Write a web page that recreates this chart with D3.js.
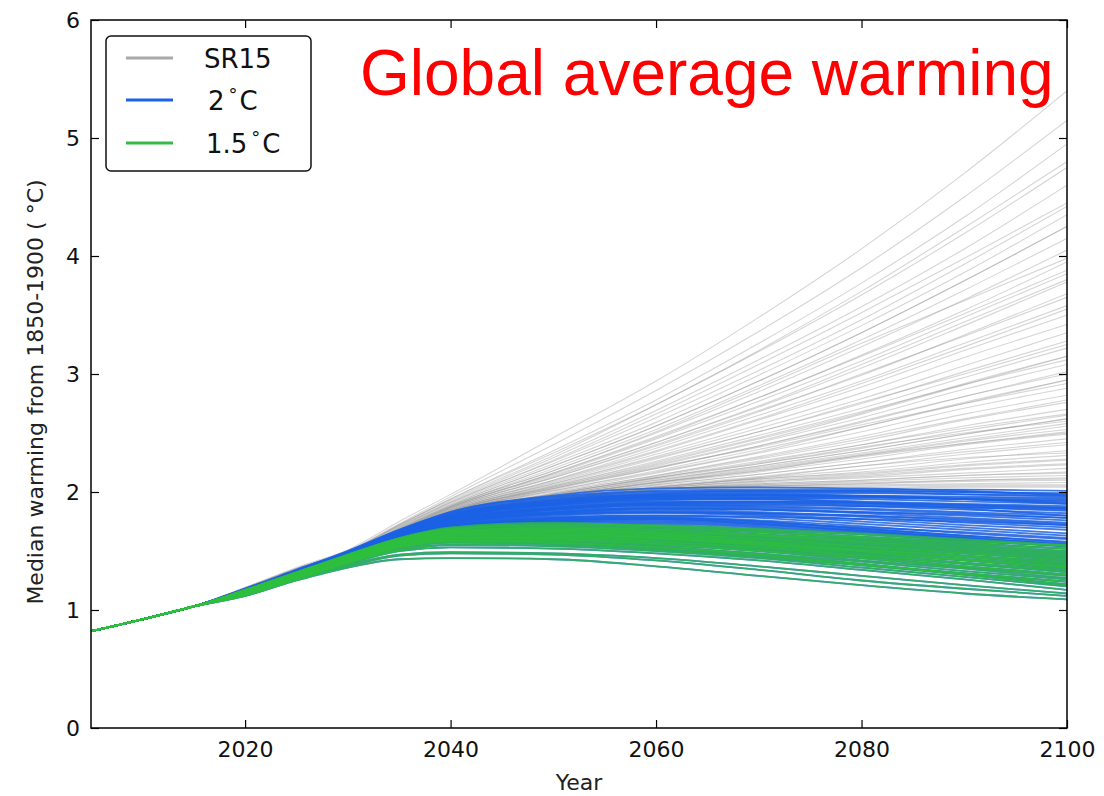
<!DOCTYPE html>
<html>
<head>
<meta charset="utf-8">
<script src="https://cdn.jsdelivr.net/npm/d3@7"></script>
<style>
  html, body { margin: 0; padding: 0; background: #fff; }
  svg { display: block; }
</style>
</head>
<body>
<svg id="chart" width="1104" height="796"></svg>
<script>
// Shared observed warming (°C above 1850-1900)
const histYears = [2005, 2010, 2015];
const histValues = [0.82, 0.92, 1.03];

// Years for every scenario pathway
const projYears = [2020, 2025, 2030, 2035, 2040, 2050, 2060, 2070, 2080, 2090, 2100];

// SR15 pathways that exceed 2 °C
const sr15Series = [
  [1.19,1.36,1.51,1.75,1.98,2.46,2.94,3.48,4.06,4.70,5.40],
  [1.19,1.35,1.50,1.73,1.96,2.40,2.86,3.36,3.90,4.50,5.15],
  [1.18,1.35,1.49,1.72,1.94,2.35,2.78,3.26,3.77,4.33,4.95],
  [1.19,1.35,1.50,1.72,1.94,2.33,2.74,3.19,3.67,4.19,4.75],
  [1.18,1.35,1.49,1.71,1.92,2.29,2.69,3.12,3.57,4.06,4.60],
  [1.18,1.34,1.48,1.70,1.91,2.26,2.63,3.03,3.46,3.93,4.42],
  [1.18,1.34,1.48,1.70,1.90,2.24,2.59,2.99,3.41,3.86,4.35],
  [1.18,1.34,1.48,1.69,1.89,2.22,2.56,2.94,3.35,3.79,4.25],
  [1.18,1.34,1.48,1.69,1.89,2.22,2.56,2.94,3.35,3.79,4.25],
  [1.18,1.34,1.47,1.69,1.88,2.20,2.53,2.90,3.29,3.71,4.15],
  [1.18,1.34,1.47,1.68,1.88,2.18,2.50,2.85,3.23,3.63,4.05],
  [1.17,1.34,1.47,1.68,1.87,2.16,2.47,2.80,3.16,3.54,3.95],
  [1.17,1.34,1.47,1.67,1.87,2.15,2.45,2.77,3.11,3.48,3.85],
  [1.17,1.34,1.47,1.67,1.86,2.13,2.42,2.72,3.05,3.41,3.78],
  [1.17,1.33,1.46,1.66,1.86,2.12,2.40,2.69,2.99,3.33,3.68],
  [1.17,1.33,1.46,1.66,1.85,2.10,2.37,2.65,2.94,3.26,3.58],
  [1.17,1.33,1.46,1.66,1.85,2.09,2.34,2.61,2.89,3.20,3.50],
  [1.17,1.33,1.46,1.65,1.84,2.08,2.32,2.57,2.84,3.14,3.42],
  [1.17,1.33,1.46,1.65,1.84,2.07,2.30,2.54,2.79,3.07,3.35],
  [1.17,1.33,1.45,1.65,1.84,2.06,2.28,2.51,2.75,3.02,3.28],
  [1.17,1.33,1.45,1.64,1.83,2.05,2.26,2.48,2.71,2.97,3.22],
  [1.17,1.33,1.45,1.64,1.83,2.04,2.24,2.45,2.67,2.92,3.15],
  [1.17,1.33,1.45,1.64,1.83,2.03,2.22,2.42,2.63,2.87,3.08],
  [1.17,1.33,1.45,1.64,1.82,2.02,2.20,2.39,2.59,2.81,3.02],
  [1.17,1.33,1.45,1.63,1.82,2.01,2.18,2.36,2.55,2.76,2.95],
  [1.17,1.33,1.45,1.63,1.82,2.00,2.16,2.33,2.51,2.71,2.88],
  [1.17,1.33,1.45,1.63,1.81,1.99,2.14,2.30,2.47,2.66,2.82],
  [1.17,1.32,1.45,1.63,1.81,1.98,2.13,2.28,2.43,2.61,2.76],
  [1.17,1.32,1.45,1.63,1.81,1.98,2.12,2.26,2.40,2.56,2.70],
  [1.17,1.32,1.44,1.62,1.81,1.97,2.11,2.24,2.37,2.52,2.65],
  [1.17,1.32,1.44,1.62,1.80,1.97,2.10,2.22,2.35,2.49,2.62],
  [1.17,1.32,1.44,1.62,1.80,1.97,2.10,2.22,2.35,2.49,2.62],
  [1.16,1.32,1.44,1.62,1.80,1.96,2.09,2.21,2.33,2.46,2.58],
  [1.16,1.32,1.44,1.62,1.79,1.96,2.08,2.19,2.31,2.43,2.53],
  [1.16,1.32,1.44,1.62,1.81,1.95,2.07,2.17,2.28,2.40,2.49],
  [1.16,1.32,1.44,1.61,1.79,1.95,2.06,2.15,2.25,2.36,2.45],
  [1.16,1.32,1.44,1.61,1.80,1.94,2.05,2.13,2.22,2.32,2.40],
  [1.16,1.32,1.44,1.61,1.78,1.94,2.04,2.12,2.19,2.28,2.35],
  [1.16,1.32,1.44,1.61,1.80,1.94,2.04,2.11,2.17,2.25,2.31],
  [1.16,1.32,1.44,1.61,1.79,1.93,2.03,2.10,2.15,2.22,2.27],
  [1.16,1.32,1.44,1.61,1.81,1.93,2.03,2.09,2.13,2.19,2.23],
  [1.16,1.32,1.44,1.61,1.78,1.93,2.02,2.08,2.12,2.16,2.20],
  [1.16,1.32,1.44,1.61,1.80,1.93,2.02,2.07,2.10,2.14,2.17],
  [1.16,1.32,1.44,1.61,1.79,1.93,2.02,2.06,2.09,2.12,2.14],
  [1.16,1.32,1.44,1.61,1.81,1.93,2.02,2.06,2.08,2.10,2.12],
  [1.16,1.32,1.44,1.61,1.78,1.93,2.02,2.05,2.07,2.09,2.10],
  [1.16,1.32,1.44,1.61,1.80,1.93,2.02,2.05,2.06,2.07,2.08],
  [1.16,1.32,1.44,1.61,1.79,1.93,2.02,2.04,2.05,2.06,2.06],
  [1.16,1.32,1.44,1.61,1.81,1.93,2.01,2.04,2.04,2.05,2.05],
  [1.16,1.32,1.44,1.61,1.78,1.93,2.01,2.03,2.03,2.04,2.04],
  [1.17,1.32,1.45,1.63,1.81,1.98,2.12,2.25,2.40,2.54,2.66],
  [1.16,1.32,1.44,1.62,1.80,1.96,2.08,2.18,2.31,2.41,2.50],
  [1.17,1.33,1.45,1.63,1.82,2.01,2.17,2.34,2.55,2.75,2.95],
  [1.17,1.33,1.46,1.65,1.85,2.10,2.35,2.62,2.92,3.23,3.55],
  [1.17,1.34,1.46,1.66,1.86,2.12,2.39,2.68,3.00,3.32,3.65],
  [1.17,1.33,1.46,1.65,1.84,2.07,2.29,2.51,2.76,3.00,3.25],
  [1.17,1.33,1.45,1.64,1.83,2.03,2.20,2.39,2.60,2.81,3.00],
  [1.18,1.34,1.47,1.68,1.88,2.18,2.51,2.88,3.26,3.62,3.98],
  [1.17,1.34,1.47,1.68,1.87,2.16,2.46,2.80,3.15,3.51,3.88],
  [1.18,1.35,1.49,1.71,1.91,2.27,2.66,3.08,3.52,3.98,4.45],
  [1.16,1.32,1.44,1.62,1.80,1.96,2.08,2.18,2.30,2.41,2.51],
  [1.16,1.32,1.44,1.61,1.79,1.95,2.06,2.15,2.25,2.34,2.42],
  [1.16,1.32,1.44,1.61,1.81,1.94,2.04,2.11,2.16,2.23,2.28],
  [1.16,1.32,1.44,1.61,1.80,1.93,2.03,2.09,2.14,2.20,2.24],
  [1.16,1.32,1.44,1.61,1.79,1.93,2.02,2.07,2.10,2.14,2.16],
  [1.16,1.32,1.44,1.61,1.80,1.93,2.02,2.05,2.07,2.10,2.11],
  [1.17,1.32,1.45,1.63,1.81,1.99,2.14,2.29,2.45,2.62,2.78],
  [1.17,1.33,1.45,1.64,1.83,2.04,2.23,2.43,2.66,2.91,3.15],
  [1.17,1.33,1.45,1.64,1.83,2.05,2.25,2.46,2.68,2.91,3.12],
  [1.17,1.32,1.45,1.63,1.81,1.98,2.12,2.24,2.38,2.50,2.60],
  [1.17,1.34,1.47,1.67,1.87,2.14,2.42,2.73,3.08,3.44,3.80],
  [1.18,1.35,1.49,1.72,1.93,2.31,2.74,3.20,3.70,4.24,4.80],
  [1.16,1.32,1.44,1.62,1.80,1.96,2.08,2.20,2.32,2.44,2.56],
  [1.16,1.32,1.44,1.61,1.80,1.94,2.04,2.12,2.22,2.29,2.33],
  [1.17,1.33,1.45,1.64,1.82,2.03,2.21,2.38,2.57,2.75,2.92]
];

// Pathways that keep warming below 2 °C
const twoDegSeries = [
  [1.18,1.34,1.50,1.68,1.83,1.96,2.01,2.02,2.02,2.02,2.01],
  [1.18,1.33,1.49,1.67,1.82,1.95,2.00,2.01,2.01,2.00,1.99],
  [1.17,1.33,1.49,1.67,1.81,1.93,1.98,1.99,1.99,1.98,1.97],
  [1.17,1.33,1.49,1.66,1.80,1.92,1.97,1.98,1.97,1.96,1.95],
  [1.17,1.33,1.48,1.66,1.80,1.91,1.96,1.97,1.96,1.94,1.93],
  [1.17,1.32,1.48,1.65,1.79,1.90,1.95,1.95,1.94,1.92,1.90],
  [1.17,1.32,1.48,1.65,1.78,1.89,1.93,1.94,1.92,1.90,1.88],
  [1.17,1.32,1.47,1.64,1.78,1.88,1.92,1.92,1.91,1.89,1.86],
  [1.16,1.32,1.47,1.64,1.77,1.87,1.91,1.91,1.89,1.87,1.84],
  [1.16,1.31,1.47,1.63,1.77,1.86,1.90,1.90,1.88,1.85,1.82],
  [1.16,1.31,1.46,1.63,1.76,1.85,1.89,1.88,1.86,1.83,1.80],
  [1.16,1.31,1.46,1.63,1.76,1.85,1.88,1.87,1.85,1.82,1.78],
  [1.16,1.31,1.46,1.62,1.75,1.84,1.87,1.86,1.83,1.80,1.76],
  [1.16,1.31,1.46,1.62,1.75,1.83,1.86,1.85,1.82,1.78,1.74],
  [1.16,1.31,1.45,1.62,1.74,1.82,1.85,1.83,1.80,1.76,1.72],
  [1.16,1.30,1.45,1.61,1.74,1.82,1.84,1.82,1.79,1.74,1.70],
  [1.15,1.30,1.45,1.61,1.73,1.81,1.83,1.81,1.77,1.72,1.68],
  [1.15,1.30,1.45,1.61,1.73,1.80,1.82,1.80,1.75,1.70,1.65],
  [1.15,1.30,1.44,1.60,1.72,1.79,1.80,1.78,1.73,1.68,1.63],
  [1.15,1.30,1.44,1.60,1.72,1.78,1.79,1.76,1.71,1.65,1.60],
  [1.15,1.30,1.44,1.60,1.71,1.77,1.78,1.75,1.69,1.63,1.57],
  [1.15,1.29,1.44,1.59,1.71,1.76,1.77,1.73,1.67,1.61,1.54],
  [1.17,1.33,1.49,1.67,1.81,1.94,1.99,2.01,2.01,2.00,1.98],
  [1.17,1.33,1.48,1.66,1.80,1.93,1.98,2.00,2.00,1.98,1.96],
  [1.17,1.32,1.48,1.65,1.79,1.91,1.96,1.97,1.96,1.94,1.91],
  [1.17,1.32,1.47,1.65,1.78,1.90,1.95,1.96,1.96,1.95,1.94],
  [1.16,1.32,1.47,1.64,1.78,1.89,1.94,1.95,1.95,1.94,1.92],
  [1.16,1.31,1.47,1.64,1.77,1.87,1.91,1.92,1.91,1.89,1.87],
  [1.16,1.31,1.46,1.63,1.76,1.86,1.90,1.91,1.90,1.88,1.86],
  [1.16,1.31,1.46,1.63,1.76,1.85,1.89,1.89,1.88,1.87,1.85],
  [1.18,1.34,1.50,1.68,1.83,1.97,2.03,2.04,2.03,2.01,1.97],
  [1.17,1.33,1.49,1.66,1.80,1.92,1.97,1.98,1.97,1.94,1.90],
  [1.16,1.31,1.46,1.62,1.75,1.83,1.86,1.85,1.83,1.81,1.78],
  [1.16,1.30,1.45,1.61,1.73,1.81,1.83,1.82,1.80,1.77,1.73],
  [1.17,1.32,1.48,1.65,1.79,1.90,1.94,1.94,1.91,1.86,1.80],
  [1.14,1.28,1.42,1.59,1.71,1.78,1.80,1.79,1.77,1.75,1.72],
  [1.14,1.28,1.42,1.58,1.70,1.76,1.77,1.74,1.70,1.66,1.61],
  [1.15,1.29,1.43,1.59,1.70,1.75,1.75,1.72,1.67,1.61,1.56],
  [1.15,1.29,1.44,1.60,1.71,1.77,1.78,1.75,1.69,1.63,1.58],
  [1.14,1.28,1.43,1.58,1.70,1.75,1.76,1.73,1.68,1.62,1.55],
  [1.15,1.30,1.43,1.58,1.69,1.73,1.73,1.70,1.65,1.59,1.54],
  [1.15,1.30,1.44,1.59,1.70,1.74,1.74,1.71,1.66,1.60,1.55]
];

// Pathways that limit warming to 1.5 °C (also below 2 °C)
const onePointFiveSeries = [
  [1.17,1.32,1.47,1.61,1.70,1.74,1.71,1.67,1.62,1.58,1.55],
  [1.17,1.32,1.46,1.60,1.69,1.72,1.70,1.66,1.61,1.56,1.52],
  [1.16,1.31,1.46,1.60,1.68,1.71,1.68,1.64,1.60,1.55,1.50],
  [1.16,1.31,1.45,1.59,1.67,1.70,1.67,1.63,1.58,1.53,1.48],
  [1.16,1.31,1.45,1.59,1.67,1.69,1.66,1.62,1.57,1.51,1.46],
  [1.16,1.30,1.45,1.58,1.66,1.68,1.65,1.60,1.55,1.49,1.44],
  [1.16,1.30,1.44,1.58,1.65,1.67,1.64,1.59,1.54,1.48,1.42],
  [1.15,1.30,1.44,1.57,1.65,1.66,1.63,1.58,1.53,1.46,1.40],
  [1.15,1.30,1.44,1.57,1.64,1.65,1.62,1.57,1.51,1.45,1.38],
  [1.15,1.29,1.43,1.56,1.63,1.64,1.61,1.56,1.50,1.43,1.37],
  [1.15,1.29,1.43,1.56,1.63,1.63,1.60,1.55,1.49,1.42,1.35],
  [1.15,1.29,1.43,1.56,1.62,1.62,1.59,1.54,1.47,1.40,1.33],
  [1.15,1.29,1.42,1.55,1.61,1.61,1.58,1.53,1.46,1.39,1.32],
  [1.14,1.28,1.42,1.55,1.61,1.60,1.57,1.52,1.45,1.37,1.30],
  [1.14,1.28,1.42,1.54,1.60,1.60,1.56,1.51,1.44,1.36,1.29],
  [1.14,1.28,1.41,1.54,1.59,1.59,1.55,1.50,1.42,1.35,1.27],
  [1.14,1.28,1.41,1.53,1.59,1.58,1.54,1.48,1.41,1.33,1.26],
  [1.14,1.27,1.41,1.53,1.58,1.57,1.53,1.47,1.39,1.31,1.24],
  [1.13,1.27,1.40,1.52,1.57,1.56,1.52,1.46,1.38,1.30,1.22],
  [1.13,1.27,1.40,1.51,1.55,1.54,1.50,1.44,1.36,1.28,1.20],
  [1.13,1.26,1.39,1.50,1.53,1.52,1.48,1.42,1.34,1.26,1.17],
  [1.12,1.26,1.38,1.47,1.49,1.48,1.44,1.37,1.29,1.21,1.14],
  [1.12,1.25,1.36,1.43,1.44,1.43,1.37,1.29,1.21,1.14,1.09],
  [1.17,1.32,1.47,1.61,1.69,1.73,1.72,1.69,1.65,1.60,1.55],
  [1.17,1.31,1.46,1.60,1.68,1.72,1.71,1.68,1.64,1.59,1.54],
  [1.16,1.31,1.46,1.59,1.67,1.70,1.69,1.66,1.62,1.57,1.52],
  [1.16,1.31,1.45,1.59,1.66,1.69,1.68,1.64,1.59,1.54,1.49],
  [1.16,1.30,1.45,1.58,1.66,1.68,1.66,1.63,1.58,1.52,1.47],
  [1.16,1.30,1.44,1.58,1.65,1.67,1.65,1.61,1.56,1.50,1.45],
  [1.15,1.30,1.44,1.57,1.64,1.66,1.64,1.60,1.54,1.48,1.43],
  [1.15,1.29,1.43,1.57,1.63,1.65,1.63,1.58,1.52,1.46,1.41],
  [1.15,1.29,1.43,1.56,1.63,1.64,1.62,1.57,1.51,1.45,1.39],
  [1.15,1.29,1.43,1.56,1.62,1.63,1.61,1.56,1.50,1.43,1.37],
  [1.15,1.29,1.42,1.55,1.61,1.62,1.60,1.55,1.48,1.42,1.36],
  [1.14,1.28,1.42,1.55,1.60,1.61,1.58,1.53,1.46,1.40,1.34],
  [1.14,1.28,1.41,1.53,1.58,1.57,1.53,1.47,1.39,1.30,1.21],
  [1.13,1.26,1.37,1.46,1.48,1.47,1.42,1.34,1.25,1.18,1.12],
  [1.14,1.28,1.41,1.54,1.59,1.59,1.56,1.50,1.44,1.37,1.30],
  [1.13,1.27,1.40,1.51,1.55,1.55,1.51,1.45,1.38,1.31,1.24]
];

const xTicks = [2020, 2040, 2060, 2080, 2100];
const yTicks = [0, 1, 2, 3, 4, 5, 6];
const legendLabels = ["SR15", "2", "1.5"];

const svg = d3.select("#chart");
const margin = { left: 91, right: 1067, top: 20, bottom: 728 };

const x = d3.scaleLinear().domain([2005, 2100]).range([margin.left, margin.right]);
const y = d3.scaleLinear().domain([0, 6]).range([margin.bottom, margin.top]);

const allYears = histYears.concat(projYears);
const toPoints = vals => {
  const v = histValues.concat(vals);
  return allYears.map((yr, i) => [yr, v[i]]);
};

const line = d3.line()
  .x(d => x(d[0]))
  .y(d => y(d[1]))
  .curve(d3.curveMonotoneX);

svg.append("defs").append("clipPath").attr("id", "plot-clip")
  .append("rect")
  .attr("x", margin.left).attr("y", margin.top)
  .attr("width", margin.right - margin.left)
  .attr("height", margin.bottom - margin.top);

const plot = svg.append("g").attr("clip-path", "url(#plot-clip)");

// SR15 ensemble in grey
plot.append("g").selectAll("path")
  .data(sr15Series.concat(twoDegSeries, onePointFiveSeries))
  .join("path")
  .attr("d", d => line(toPoints(d)))
  .attr("fill", "none")
  .attr("stroke", "#9a9a9a")
  .attr("stroke-opacity", 0.42)
  .attr("stroke-width", 1.1);

// Below-2 °C pathways in blue (includes the 1.5 °C set)
plot.append("g").selectAll("path")
  .data(twoDegSeries.concat(onePointFiveSeries))
  .join("path")
  .attr("d", d => line(toPoints(d)))
  .attr("fill", "none")
  .attr("stroke", "#1a62e6")
  .attr("stroke-opacity", 0.8)
  .attr("stroke-width", 1.8);

// 1.5 °C pathways in green on top
plot.append("g").selectAll("path")
  .data(onePointFiveSeries)
  .join("path")
  .attr("d", d => line(toPoints(d)))
  .attr("fill", "none")
  .attr("stroke", "#2fbf3f")
  .attr("stroke-opacity", 0.7)
  .attr("stroke-width", 1.8);

// Axes with inward ticks on all four sides
const tickFont = "'DejaVu Sans', sans-serif";

const xAxis = svg.append("g")
  .attr("transform", `translate(0,${margin.bottom})`)
  .call(d3.axisBottom(x).tickValues(xTicks).tickSizeInner(-8).tickSizeOuter(0).tickPadding(13).tickFormat(d3.format("d")));
const xTop = svg.append("g")
  .attr("transform", `translate(0,${margin.top})`)
  .call(d3.axisTop(x).tickValues(xTicks).tickSizeInner(-8).tickSizeOuter(0).tickFormat(""));
const yAxis = svg.append("g")
  .attr("transform", `translate(${margin.left},0)`)
  .call(d3.axisLeft(y).tickValues(yTicks).tickSizeInner(-8).tickSizeOuter(0).tickPadding(11).tickFormat(d3.format("d")));
const yRight = svg.append("g")
  .attr("transform", `translate(${margin.right},0)`)
  .call(d3.axisRight(y).tickValues(yTicks).tickSizeInner(-8).tickSizeOuter(0).tickFormat(""));

[xAxis, xTop, yAxis, yRight].forEach(g => {
  g.select(".domain").remove();
  g.selectAll(".tick line").attr("stroke", "#000").attr("stroke-width", 1.2);
  g.selectAll(".tick text")
    .attr("fill", "#111")
    .style("font-family", tickFont)
    .style("font-size", "22px");
});

// Frame
svg.append("rect")
  .attr("x", margin.left).attr("y", margin.top)
  .attr("width", margin.right - margin.left)
  .attr("height", margin.bottom - margin.top)
  .attr("fill", "none")
  .attr("stroke", "#000")
  .attr("stroke-width", 1.5);

// Axis titles
svg.append("text")
  .attr("x", (margin.left + margin.right) / 2)
  .attr("y", 790)
  .attr("text-anchor", "middle")
  .style("font-family", tickFont)
  .style("font-size", "22px")
  .attr("fill", "#222")
  .text("Year");

svg.append("text")
  .attr("transform", "translate(43,392) rotate(-90)")
  .attr("text-anchor", "middle")
  .style("font-family", tickFont)
  .style("font-size", "22px")
  .attr("fill", "#222")
  .text("Median warming from 1850-1900 ( °C)");

// Title
svg.append("text")
  .attr("x", 360)
  .attr("y", 95)
  .style("font-family", "'Liberation Sans', Arial, sans-serif")
  .style("font-size", "64px")
  .attr("fill", "#ff0000")
  .text("Global average warming");

// Legend
const legend = svg.append("g");
legend.append("rect")
  .attr("x", 106).attr("y", 36).attr("width", 205).attr("height", 135)
  .attr("rx", 5)
  .attr("fill", "#fff")
  .attr("stroke", "#111")
  .attr("stroke-width", 1.5);

const legendColors = ["#aaaaaa", "#1a62e6", "#38bb44"];
const legendY = [58, 100, 143];
legendLabels.forEach((lab, i) => {
  legend.append("line")
    .attr("x1", 126).attr("x2", 173)
    .attr("y1", legendY[i]).attr("y2", legendY[i])
    .attr("stroke", legendColors[i])
    .attr("stroke-width", 3);
  const t = legend.append("text")
    .attr("x", i === 0 ? 204 : (i === 1 ? 208 : 206))
    .attr("y", legendY[i] + 10)
    .style("font-family", tickFont)
    .style("font-size", "26px")
    .attr("fill", "#111");
  if (i === 0) {
    t.text(lab);
  } else {
    t.append("tspan").text(lab);
    t.append("tspan").attr("dx", 4).attr("dy", -9).style("font-size", "18px").text("°");
    t.append("tspan").attr("dx", 2).attr("dy", 9).text("C");
  }
});
</script>
</body>
</html>
